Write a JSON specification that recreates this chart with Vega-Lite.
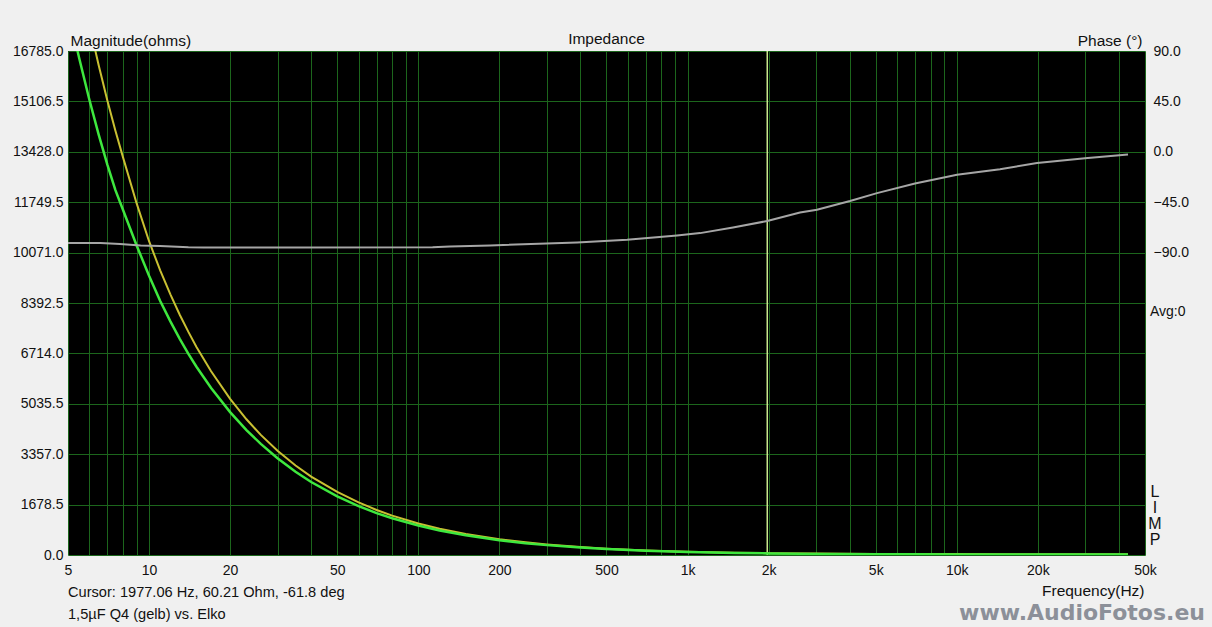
{
  "$schema": "https://vega.github.io/schema/vega-lite/v6.json",
  "width": 1077,
  "height": 504,
  "autosize": "none",
  "padding": {"left": 68, "top": 51, "right": 67, "bottom": 72},
  "background": "#f0f0f0",
  "config": {
    "view": {"fill": "#000000", "stroke": null},
    "font": "Liberation Sans",
    "axis": {"labelFont": "Liberation Sans", "titleFont": "Liberation Sans", "labelFontSize": 14, "titleFontSize": 15.5, "titleFontWeight": "normal", "labelColor": "#111111", "titleColor": "#111111", "domain": false, "ticks": false}
  },
  "title": {"text": "Impedance", "anchor": "middle", "frame": "group", "fontSize": 15.5, "fontWeight": "normal", "font": "Liberation Sans", "color": "#111111", "offset": 6, "dy": 20},
  "datasets": {
    "gelb": [
      {"f": 5, "z": 21200}, {"f": 5.5, "z": 19270}, {"f": 6, "z": 17670}, {"f": 6.5, "z": 16310},
      {"f": 7, "z": 15140}, {"f": 7.5, "z": 14130}, {"f": 8, "z": 13250}, {"f": 9, "z": 11700},
      {"f": 10, "z": 10450}, {"f": 11, "z": 9480}, {"f": 12, "z": 8680}, {"f": 13, "z": 8000},
      {"f": 14, "z": 7430}, {"f": 15, "z": 6930}, {"f": 17, "z": 6120}, {"f": 20, "z": 5200},
      {"f": 23, "z": 4520}, {"f": 26, "z": 4000}, {"f": 30, "z": 3470}, {"f": 35, "z": 2980},
      {"f": 40, "z": 2610}, {"f": 50, "z": 2100}, {"f": 60, "z": 1750}, {"f": 70, "z": 1500},
      {"f": 80, "z": 1312}, {"f": 100, "z": 1050}, {"f": 120, "z": 875}, {"f": 150, "z": 700},
      {"f": 200, "z": 526}, {"f": 250, "z": 421}, {"f": 300, "z": 351}, {"f": 400, "z": 264},
      {"f": 500, "z": 212}, {"f": 700, "z": 152}, {"f": 1000, "z": 108}, {"f": 1500, "z": 78},
      {"f": 2000, "z": 60.2}, {"f": 3000, "z": 46}, {"f": 5000, "z": 36}, {"f": 7000, "z": 32},
      {"f": 10000, "z": 30}, {"f": 15000, "z": 29}, {"f": 20000, "z": 28.6}, {"f": 30000, "z": 28.4},
      {"f": 43240, "z": 28.3}
    ],
    "elko": [
      {"f": 5, "z": 18200}, {"f": 5.5, "z": 16550}, {"f": 6, "z": 15170}, {"f": 6.5, "z": 14000},
      {"f": 7, "z": 13000}, {"f": 7.5, "z": 12150}, {"f": 8, "z": 11500}, {"f": 9, "z": 10300},
      {"f": 10, "z": 9300}, {"f": 11, "z": 8460}, {"f": 12, "z": 7780}, {"f": 13, "z": 7200},
      {"f": 14, "z": 6700}, {"f": 15, "z": 6270}, {"f": 17, "z": 5560}, {"f": 20, "z": 4760},
      {"f": 23, "z": 4160}, {"f": 26, "z": 3700}, {"f": 30, "z": 3220}, {"f": 35, "z": 2770},
      {"f": 40, "z": 2430}, {"f": 50, "z": 1950}, {"f": 60, "z": 1630}, {"f": 70, "z": 1395},
      {"f": 80, "z": 1222}, {"f": 100, "z": 980}, {"f": 120, "z": 817}, {"f": 150, "z": 655},
      {"f": 200, "z": 492}, {"f": 250, "z": 394}, {"f": 300, "z": 329}, {"f": 400, "z": 247},
      {"f": 500, "z": 198}, {"f": 700, "z": 142}, {"f": 1000, "z": 100}, {"f": 1500, "z": 68},
      {"f": 2000, "z": 52}, {"f": 3000, "z": 37}, {"f": 5000, "z": 26}, {"f": 7000, "z": 21},
      {"f": 10000, "z": 18}, {"f": 15000, "z": 16}, {"f": 20000, "z": 15}, {"f": 30000, "z": 14},
      {"f": 43240, "z": 13.5}
    ],
    "phase": [
      {"f": 5, "p": -81.5}, {"f": 6.6, "p": -81.5}, {"f": 7.8, "p": -82.4}, {"f": 9.3, "p": -83.6},
      {"f": 11, "p": -84}, {"f": 14, "p": -85.2}, {"f": 16, "p": -85.4}, {"f": 36, "p": -85.4},
      {"f": 113, "p": -85.3}, {"f": 131, "p": -84.6}, {"f": 185, "p": -83.6}, {"f": 389, "p": -81},
      {"f": 596, "p": -78.6}, {"f": 914, "p": -74.7}, {"f": 1113, "p": -72.6}, {"f": 1475, "p": -67.6},
      {"f": 1977, "p": -61.8}, {"f": 2616, "p": -54.2}, {"f": 3024, "p": -51.8}, {"f": 4013, "p": -44},
      {"f": 5054, "p": -36.9}, {"f": 6994, "p": -28.3}, {"f": 10016, "p": -20.5}, {"f": 14470, "p": -15.5},
      {"f": 19860, "p": -10.1}, {"f": 29940, "p": -5.7}, {"f": 43240, "p": -2.4}
    ],
    "cursor": [{"f": 1977.06}],
    "notes": [{"t": "Cursor: 1977.06 Hz, 60.21 Ohm, -61.8 deg"}],
    "notes2": [{"t": "1,5µF  Q4 (gelb) vs. Elko"}]
  },
  "layer": [
    {
      "layer": [
        {
          "data": {"name": "gelb"},
          "mark": {"type": "line", "color": "#c9c032", "strokeWidth": 2, "clip": true},
          "encoding": {
            "x": {"field": "f", "type": "quantitative",
              "scale": {"type": "log", "domain": [5, 50000], "nice": false},
              "axis": {
                "title": "Frequency(Hz)", "titleX": 1076, "titleY": 40, "titleAlign": "right", "titleBaseline": "alphabetic", "titleAnchor": null,
                "values": [5,6,7,8,9,10,20,30,40,50,60,70,80,90,100,200,300,400,500,600,700,800,900,1000,2000,3000,4000,5000,6000,7000,8000,9000,10000,20000,30000,40000,50000],
                "labelExpr": "indexof([5,10,20,50,100,200,500,1000,2000,5000,10000,20000,50000], datum.value) >= 0 ? (datum.value >= 1000 ? (datum.value/1000) + 'k' : datum.value + '') : ''",
                "labelPadding": 8, "labelOverlap": false, "labelFlush": false,
                "grid": true, "gridColor": "#1c661c", "gridWidth": 1, "gridOpacity": 1
              }
            },
            "y": {"field": "z", "type": "quantitative",
              "scale": {"domain": [0, 16785], "nice": false, "zero": false},
              "axis": {
                "title": "Magnitude(ohms)", "titleAngle": 0, "titleX": 2, "titleY": -6, "titleAlign": "left", "titleBaseline": "alphabetic", "titleAnchor": null,
                "values": [0,1678.5,3357,5035.5,6714,8392.5,10071,11749.5,13428,15106.5,16785],
                "format": ".1f", "labelPadding": 5, "labelOverlap": false, "labelFlush": false,
                "grid": true, "gridColor": "#1c661c", "gridWidth": 1, "gridOpacity": 1
              }
            }
          }
        },
        {
          "data": {"name": "cursor"},
          "mark": {"type": "rule", "color": "#c8e68c", "strokeWidth": 1.5},
          "encoding": {"x": {"field": "f", "type": "quantitative"}}
        },
        {
          "data": {"name": "elko"},
          "mark": {"type": "line", "color": "#3ee83e", "strokeWidth": 2.5, "clip": true},
          "encoding": {
            "x": {"field": "f", "type": "quantitative"},
            "y": {"field": "z", "type": "quantitative"}
          }
        },
        {
          "data": {"name": "notes"},
          "mark": {"type": "text", "align": "left", "baseline": "middle", "dx": 0, "dy": 38, "fontSize": 14.6, "color": "#111111", "font": "Liberation Sans"},
          "encoding": {"x": {"datum": 5}, "y": {"datum": 0}, "text": {"field": "t"}}
        },
        {
          "data": {"name": "notes2"},
          "mark": {"type": "text", "align": "left", "baseline": "middle", "dx": 0, "dy": 60, "fontSize": 14.6, "color": "#111111", "font": "Liberation Sans"},
          "encoding": {"x": {"datum": 5}, "y": {"datum": 0}, "text": {"field": "t"}}
        },
        {
          "data": {"values": [{"t": "www.AudioFotos.eu"}]},
          "mark": {"type": "text", "align": "right", "baseline": "alphabetic", "dx": 60, "dy": 65, "fontSize": 22, "fontWeight": "bold", "color": "#8c9099", "font": "DejaVu Sans"},
          "encoding": {"x": {"datum": 50000}, "y": {"datum": 0}, "text": {"field": "t"}}
        },
        {
          "data": {"values": [{"t": "L\nI\nM\nP"}]},
          "mark": {"type": "text", "align": "center", "baseline": "top", "lineBreak": "\n", "lineHeight": 16, "dx": 10, "dy": -71, "fontSize": 16, "color": "#111111", "font": "Liberation Sans"},
          "encoding": {"x": {"datum": 50000}, "y": {"datum": 0}, "text": {"field": "t"}}
        }
      ]
    },
    {
      "layer": [
        {
          "data": {"name": "phase"},
          "mark": {"type": "line", "color": "#a6a6a6", "strokeWidth": 2, "clip": true},
          "encoding": {
            "x": {"field": "f", "type": "quantitative"},
            "y": {"field": "p", "type": "quantitative",
              "scale": {"domain": [-360, 90], "nice": false, "zero": false},
              "axis": {
                "orient": "right", "title": "Phase (°)", "titleAngle": 0, "titleX": -3, "titleY": -6, "titleAlign": "right", "titleBaseline": "alphabetic", "titleAnchor": null,
                "values": [90, 45, 0, -45, -90], "format": ".1f", "labelPadding": 8, "labelOverlap": false, "labelFlush": false, "grid": false
              }
            }
          }
        },
        {
          "data": {"values": [{"t": "Avg:0"}]},
          "mark": {"type": "text", "align": "left", "baseline": "middle", "dx": 5, "fontSize": 14, "color": "#111111", "font": "Liberation Sans"},
          "encoding": {"x": {"datum": 50000}, "y": {"datum": -143}, "text": {"field": "t"}}
        }
      ]
    }
  ],
  "resolve": {"scale": {"y": "independent"}}
}
